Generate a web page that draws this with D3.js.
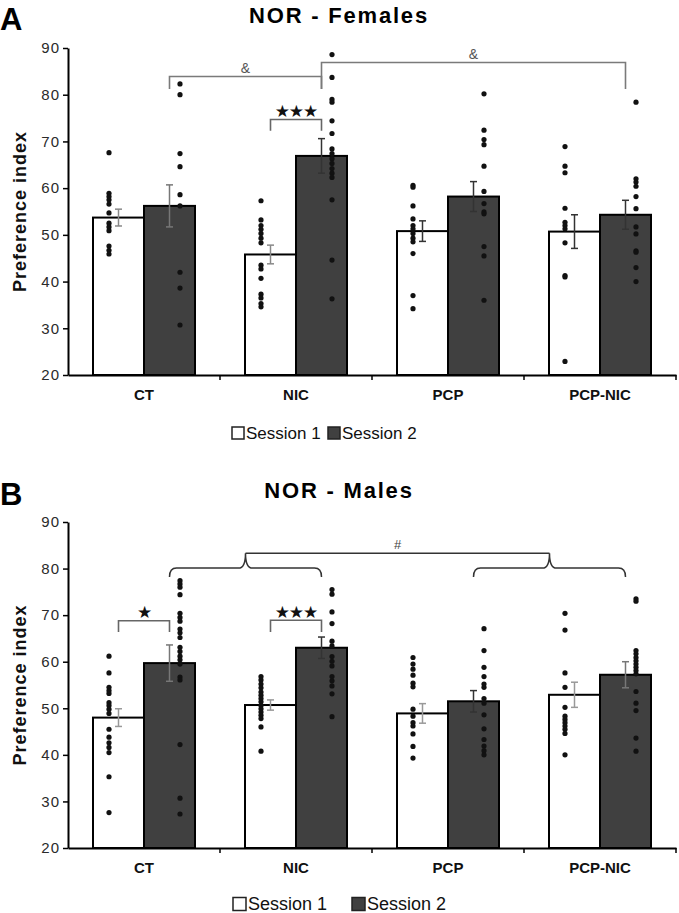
<!DOCTYPE html>
<html>
<head>
<meta charset="utf-8">
<script src="https://cdn.jsdelivr.net/npm/d3@7"></script>
<style>
  html, body { margin: 0; padding: 0; background: #fff; }
  svg { display: block; }
  text { font-family: "Liberation Sans", Arial, Helvetica, sans-serif; }
</style>
</head>
<body>
<svg id="chart" width="679" height="913"></svg>
<script>
// ---------- DATA ----------
const categories = ["CT", "NIC", "PCP", "PCP-NIC"];
const sessions = ["Session 1", "Session 2"];
const yTicks = [20, 30, 40, 50, 60, 70, 80, 90];

// Panel A – Females
const femMean1 = [53.7, 45.8, 50.8, 50.7];
const femSem1  = [1.8, 2.0, 2.2, 3.6];
const femMean2 = [56.2, 66.9, 58.2, 54.3];
const femSem2  = [4.5, 3.7, 3.2, 3.1];
const femDots1 = [
  [67.6, 58.9, 58.2, 57.5, 56.6, 54.7, 52.5, 51.7, 50.9, 47.6, 46.7, 45.9],
  [57.3, 53.2, 52.0, 51.2, 50.3, 49.3, 48.3, 43.5, 42.7, 40.7, 37.3, 36.5, 35.3, 34.6],
  [60.6, 60.2, 56.2, 53.4, 52.0, 51.3, 50.3, 49.3, 48.5, 46.0, 37.0, 34.2],
  [68.9, 64.7, 63.3, 55.7, 52.7, 52.0, 51.3, 48.3, 41.3, 41.0, 22.9]
];
const femDots2 = [
  [82.3, 80.0, 67.4, 64.6, 58.6, 56.2, 42.0, 38.6, 30.7],
  [88.6, 83.7, 79.0, 78.4, 74.4, 71.7, 68.4, 67.4, 66.3, 65.3, 64.2, 63.2, 62.3, 57.5, 44.6, 36.3],
  [80.2, 72.4, 70.4, 69.3, 64.7, 59.3, 56.7, 54.9, 54.5, 47.5, 45.5, 36.0],
  [78.4, 62.0, 61.3, 60.4, 58.2, 55.6, 51.7, 50.2, 46.6, 46.3, 43.0, 40.0]
];

// Panel B – Males
const maleMean1 = [48.0, 50.7, 48.9, 52.9];
const maleSem1  = [1.9, 1.1, 2.1, 2.7];
const maleMean2 = [59.7, 63.0, 51.5, 57.2];
const maleSem2  = [3.9, 2.3, 2.3, 2.8];
const maleDots1 = [
  [61.2, 57.6, 54.5, 53.8, 53.2, 51.2, 50.6, 49.8, 48.9, 45.5, 43.8, 42.6, 41.6, 40.5, 35.3, 27.6],
  [56.8, 56.1, 55.2, 54.4, 53.5, 52.8, 52.1, 51.4, 50.6, 49.9, 49.2, 48.5, 47.8, 46.0, 40.8],
  [60.9, 59.5, 58.4, 57.1, 55.4, 54.6, 49.8, 48.3, 46.9, 46.2, 44.5, 41.8, 39.3],
  [70.4, 66.8, 57.6, 54.5, 50.2, 48.3, 47.6, 46.9, 46.2, 45.5, 44.6, 40.0]
];
const maleDots2 = [
  [77.4, 76.7, 76.0, 74.4, 70.4, 69.5, 68.7, 67.0, 66.2, 65.2, 63.1, 62.2, 61.2, 60.4, 59.5, 56.7, 56.1, 42.2, 30.7, 27.3],
  [75.5, 74.5, 70.7, 68.2, 64.4, 63.4, 61.1, 60.1, 59.1, 56.8, 55.9, 54.8, 53.1, 48.2],
  [67.1, 62.4, 58.8, 56.8, 55.2, 54.5, 52.1, 51.1, 48.6, 45.6, 43.3, 41.9, 40.9, 40.0],
  [73.5, 73.0, 62.4, 61.7, 60.9, 60.2, 59.5, 58.8, 58.1, 57.4, 53.6, 51.1, 49.5, 43.6, 40.8]
];

// Annotations (category/session anchors, values in y units)
const femBrackets = [
  {from: ["CT", 1], to: ["NIC", 1], y: 83.9, yEndL: 81.2, yEndR: 81.2, label: "&", labelY: 84.6, kind: "amp"},
  {from: ["NIC", 1], to: ["PCP-NIC", 1], y: 86.9, yEndL: 81.2, yEndR: 81.2, label: "&", labelY: 87.6, kind: "amp"},
  {from: ["NIC", 0], to: ["NIC", 1], y: 74.7, yEndL: 72.3, yEndR: 72.3, label: "★★★", labelY: 75.2, kind: "star"}
];
const maleBrackets = [
  {from: ["CT", 0], to: ["CT", 1], y: 68.8, yEndL: 66.4, yEndR: 66.4, label: "★", labelY: 69.4, kind: "star"},
  {from: ["NIC", 0], to: ["NIC", 1], y: 68.9, yEndL: 66.4, yEndR: 66.4, label: "★★★", labelY: 69.4, kind: "star"}
];
const maleBraces = [
  {from: ["CT", 1], to: ["NIC", 1], y: 80.1, yEnd: 78.2, yTip: 83.3},
  {from: ["PCP", 1], to: ["PCP-NIC", 1], y: 80.1, yEnd: 78.2, yTip: 83.3}
];
const maleHash = {label: "#", y: 83.3, labelY: 84.2};

// ---------- DRAW ----------
const svg = d3.select("#chart");
const xLeft = 68, xRight = 676;
const darkFill = "#404040";

function drawPanel(cfg) {
  const g = svg.append("g");
  const y = d3.scaleLinear().domain([20, 90]).range([cfg.bottom, cfg.top]);
  const x0 = d3.scaleBand().domain(categories).range([xLeft, xRight]).paddingInner(0).paddingOuter(0);
  const x1 = d3.scaleBand().domain(sessions).range([-51, 51]);
  const bw = x1.bandwidth();
  const barCenter = (c, si) => x0(c) + x0.bandwidth() / 2 + x1(sessions[si]) + bw / 2;

  const rows = [];
  categories.forEach((c, i) => {
    rows.push({c, si: 0, mean: cfg.mean1[i], sem: cfg.sem1[i], dots: cfg.dots1[i]});
    rows.push({c, si: 1, mean: cfg.mean2[i], sem: cfg.sem2[i], dots: cfg.dots2[i]});
  });

  // bars
  g.selectAll("rect.bar").data(rows).join("rect")
    .attr("class", "bar")
    .attr("x", d => barCenter(d.c, d.si) - bw / 2)
    .attr("width", bw)
    .attr("y", d => y(d.mean))
    .attr("height", d => y(20) - y(d.mean))
    .attr("fill", d => d.si === 0 ? "#ffffff" : darkFill)
    .attr("stroke", "#000")
    .attr("stroke-width", 2);

  // error bars
  const eg = g.selectAll("g.err").data(rows).join("g").attr("class", "err")
    .attr("stroke", (d, i) => cfg.errColors[i])
    .attr("stroke-width", 1.5);
  eg.append("line")
    .attr("x1", d => barCenter(d.c, d.si)).attr("x2", d => barCenter(d.c, d.si))
    .attr("y1", d => y(d.mean + d.sem)).attr("y2", d => y(d.mean - d.sem));
  eg.append("line")
    .attr("x1", d => barCenter(d.c, d.si) - 3.5).attr("x2", d => barCenter(d.c, d.si) + 3.5)
    .attr("y1", d => y(d.mean + d.sem)).attr("y2", d => y(d.mean + d.sem));
  eg.append("line")
    .attr("x1", d => barCenter(d.c, d.si) - 3.5).attr("x2", d => barCenter(d.c, d.si) + 3.5)
    .attr("y1", d => y(d.mean - d.sem)).attr("y2", d => y(d.mean - d.sem));

  // individual points
  const pts = [];
  rows.forEach(r => r.dots.forEach(v => pts.push({c: r.c, si: r.si, v})));
  g.selectAll("circle.pt").data(pts).join("circle")
    .attr("class", "pt")
    .attr("cx", d => barCenter(d.c, d.si) + (d.si === 0 ? -9.5 : 10.5))
    .attr("cy", d => y(d.v))
    .attr("r", 2.6)
    .attr("fill", "#111");

  // y axis
  const ya = g.append("g").attr("transform", `translate(${xLeft},0)`)
    .call(d3.axisLeft(y).tickValues(yTicks).tickSize(5).tickSizeOuter(0).tickPadding(4));
  ya.select(".domain").attr("stroke", "#000").attr("stroke-width", 2);
  ya.selectAll(".tick line").attr("stroke", "#000").attr("stroke-width", 1.5);
  ya.selectAll(".tick text").attr("fill", "#2a2a2a").style("font-size", "15px")
    .style("letter-spacing", "1px").attr("x", -8);

  // x axis
  const xa = g.append("g").attr("transform", `translate(0,${cfg.bottom})`)
    .call(d3.axisBottom(x0).tickSize(0).tickPadding(14));
  xa.select(".domain").attr("stroke", "#000").attr("stroke-width", 2);
  xa.selectAll(".tick text").attr("fill", "#111").style("font-size", "15px")
    .style("font-weight", "bold");
  g.selectAll("line.bt").data(categories).join("line").attr("class", "bt")
    .attr("x1", c => x0(c) + x0.bandwidth()).attr("x2", c => x0(c) + x0.bandwidth())
    .attr("y1", cfg.bottom).attr("y2", cfg.bottom + 5)
    .attr("stroke", "#000").attr("stroke-width", 1.5);

  // y label
  g.append("text")
    .attr("transform", `translate(26,${(cfg.top + cfg.bottom) / 2}) rotate(-90)`)
    .attr("text-anchor", "middle")
    .style("font-size", "18px").style("font-weight", "bold")
    .style("letter-spacing", "1px")
    .attr("fill", "#111")
    .text("Preference index");

  // titles
  g.append("text").attr("x", 0).attr("y", cfg.letterY)
    .style("font-size", "31px").style("font-weight", "bold").attr("fill", "#000")
    .text(cfg.letter);
  g.append("text").attr("x", 339).attr("y", cfg.titleY).attr("text-anchor", "middle")
    .style("font-size", "22px").style("font-weight", "bold").style("letter-spacing", "1.8px")
    .attr("fill", "#000").text(cfg.title);

  // brackets
  cfg.brackets.forEach(b => {
    const xa1 = barCenter(b.from[0], b.from[1]);
    const xa2 = barCenter(b.to[0], b.to[1]);
    const col = b.kind === "amp" ? "#7a7a7a" : "#666";
    g.append("path")
      .attr("d", `M${xa1},${y(b.yEndL)}V${y(b.y)}H${xa2}V${y(b.yEndR)}`)
      .attr("fill", "none").attr("stroke", col).attr("stroke-width", 1.6);
    g.append("text").attr("x", (xa1 + xa2) / 2).attr("y", y(b.labelY))
      .attr("text-anchor", "middle")
      .style("font-family", b.kind === "star" ? "'DejaVu Sans', sans-serif" : null)
      .style("font-size", b.kind === "star" ? "17px" : "14px")
      .style("letter-spacing", b.kind === "star" ? "-1px" : null)
      .attr("fill", b.kind === "star" ? "#111" : "#555")
      .text(b.label);
  });

  // curly braces
  const tips = [];
  (cfg.braces || []).forEach(b => {
    const xa1 = barCenter(b.from[0], b.from[1]);
    const xa2 = barCenter(b.to[0], b.to[1]);
    const mid = (xa1 + xa2) / 2;
    const yb = y(b.y), ye = y(b.yEnd), yt = y(b.yTip);
    tips.push(mid);
    const r = 7;
    g.append("path")
      .attr("d", `M${xa1},${ye} Q${xa1},${yb} ${xa1 + r},${yb} L${mid - r},${yb} Q${mid},${yb} ${mid},${yt} ` +
                 `Q${mid},${yb} ${mid + r},${yb} L${xa2 - r},${yb} Q${xa2},${yb} ${xa2},${ye}`)
      .attr("fill", "none").attr("stroke", "#333").attr("stroke-width", 1.5);
  });
  if (cfg.hash && tips.length === 2) {
    g.append("line").attr("x1", tips[0]).attr("x2", tips[1])
      .attr("y1", y(cfg.hash.y)).attr("y2", y(cfg.hash.y))
      .attr("stroke", "#333").attr("stroke-width", 1.5);
    g.append("text").attr("x", (tips[0] + tips[1]) / 2).attr("y", y(cfg.hash.labelY))
      .attr("text-anchor", "middle").style("font-size", "13px").attr("fill", "#444")
      .text(cfg.hash.label);
  }

  // legend
  const lg = g.append("g");
  const L = cfg.legend;
  sessions.forEach((s, i) => {
    const lx = L.x[i];
    lg.append("rect").attr("x", lx).attr("y", L.y - L.sq / 2).attr("width", L.sq).attr("height", L.sq)
      .attr("fill", i === 0 ? "#fff" : darkFill).attr("stroke", "#222").attr("stroke-width", 1.5);
    lg.append("text").attr("x", lx + L.sq + 2).attr("y", L.y + L.fs * 0.36)
      .style("font-size", L.fs + "px").attr("fill", "#111").text(s);
  });
}

drawPanel({
  top: 48, bottom: 375, letter: "A", letterY: 30, title: "NOR - Females", titleY: 23,
  mean1: femMean1, sem1: femSem1, mean2: femMean2, sem2: femSem2,
  dots1: femDots1, dots2: femDots2,
  errColors: ["#888", "#777", "#888", "#333", "#333", "#333", "#333", "#333"],
  brackets: femBrackets,
  legend: {x: [232, 328], y: 433, sq: 12, fs: 17}
});

drawPanel({
  top: 522, bottom: 848, letter: "B", letterY: 505, title: "NOR - Males", titleY: 498,
  mean1: maleMean1, sem1: maleSem1, mean2: maleMean2, sem2: maleSem2,
  dots1: maleDots1, dots2: maleDots2,
  errColors: ["#999", "#777", "#999", "#333", "#999", "#333", "#999", "#777"],
  brackets: maleBrackets, braces: maleBraces, hash: maleHash,
  legend: {x: [233, 352], y: 904, sq: 13, fs: 18}
});
</script>
</body>
</html>
